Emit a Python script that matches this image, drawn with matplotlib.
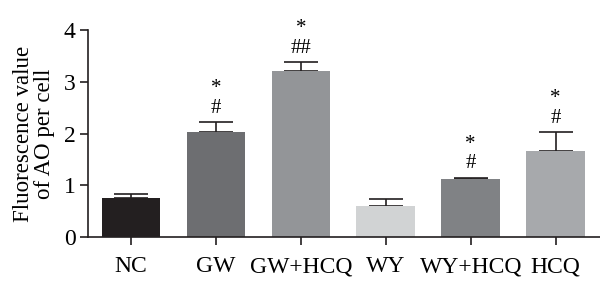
import matplotlib
matplotlib.use('Agg')
import matplotlib.pyplot as plt

groups = ['NC', 'GW', 'GW+HCQ', 'WY', 'WY+HCQ', 'HCQ']
means = [0.75, 2.03, 3.21, 0.60, 1.13, 1.67]
errs = [0.09, 0.19, 0.17, 0.14, 0.02, 0.36]
marks = ['', '*\n#', '*\n##', '', '*\n#', '*\n#']
colors = ['#231f20', '#6d6e71', '#939598', '#d1d3d4', '#808285', '#a7a9ac']

plt.rcParams['font.family'] = ['Liberation Serif', 'DejaVu Serif']

fig = plt.figure(figsize=(6, 2.83), dpi=100)
ax = fig.add_axes([0.1467, 0.1625, 0.853, 0.7314])

x = list(range(len(groups)))
ax.bar(x, means, width=0.69, color=colors, zorder=2)
ax.errorbar(x, means, yerr=[[0] * len(errs), errs], fmt='none', ecolor='#231f20',
            elinewidth=1.2, capsize=12, capthick=1.2, zorder=1)

for xi, m, e, t in zip(x, means, errs, marks):
    if t:
        ax.annotate(t, (xi, m + e), xytext=(0, 3), textcoords='offset points',
                    ha='center', va='bottom', fontsize=15, linespacing=1.05)

ax.set_xlim(-0.506, 5.52)
ax.set_ylim(0, 4)
ax.set_yticks([0, 1, 2, 3, 4])
ax.set_xticks(x)
ax.set_xticklabels(groups)
ax.tick_params(axis='both', length=6, width=1.2, labelsize=17, color='#231f20')
ax.tick_params(axis='x', pad=8)
ax.tick_params(axis='y', pad=3)
ax.set_ylabel('Fluorescence value\nof AO per cell', fontsize=16.5, linespacing=1.0, labelpad=6)
for s in ['top', 'right']:
    ax.spines[s].set_visible(False)
for s in ['left', 'bottom']:
    ax.spines[s].set_linewidth(1.2)
    ax.spines[s].set_color('#231f20')

fig.savefig('out.png', dpi=100)
